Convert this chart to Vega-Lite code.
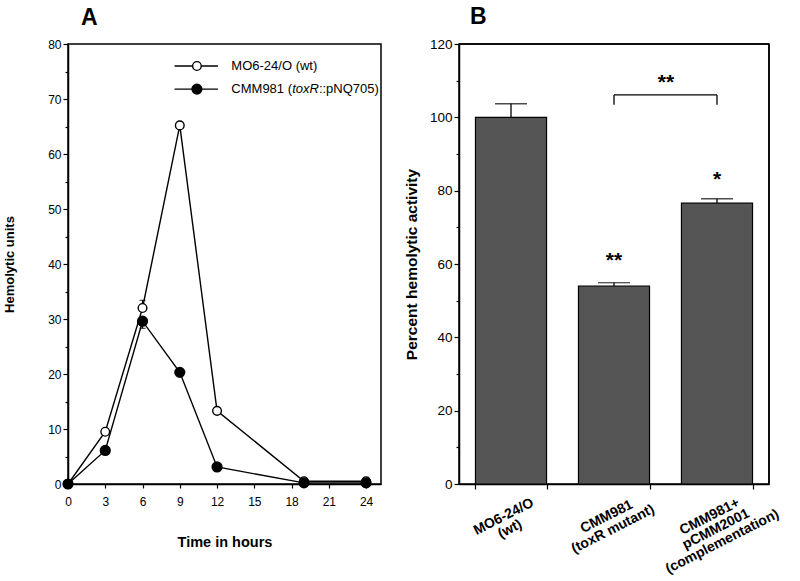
{
  "$schema": "https://vega.github.io/schema/vega-lite/v6.json",
  "padding": {"left": 2, "top": 5, "right": 2, "bottom": 2},
  "spacing": 21,
  "config": {
    "font": "Liberation Sans",
    "view": {"stroke": "black", "strokeWidth": 1.5},
    "axis": {"domainColor": "black", "tickColor": "black", "labelColor": "black", "titleColor": "black", "grid": false, "domainWidth": 1.5, "tickWidth": 1.2}
  },
  "datasets": {
    "frame": [{}],
    "timecourse": [
      {"series": "wt", "t": 0, "v": 0},
      {"series": "wt", "t": 3, "v": 9.5},
      {"series": "wt", "t": 6, "v": 32},
      {"series": "wt", "t": 9, "v": 65.2},
      {"series": "wt", "t": 12, "v": 13.3},
      {"series": "wt", "t": 19, "v": 0.5},
      {"series": "wt", "t": 24, "v": 0.5},
      {"series": "mut", "t": 0, "v": 0},
      {"series": "mut", "t": 3, "v": 6.1},
      {"series": "mut", "t": 6, "v": 29.6},
      {"series": "mut", "t": 9, "v": 20.3},
      {"series": "mut", "t": 12, "v": 3.1},
      {"series": "mut", "t": 19, "v": 0.2},
      {"series": "mut", "t": 24, "v": 0.2}
    ],
    "errA": [
      {"series": "wt", "t": 6, "lo": 32, "hi": 33.4},
      {"series": "mut", "t": 6, "lo": 28.3, "hi": 29.6}
    ],
    "legendA": [
      {"series": "wt", "x1": 8.58, "x2": 12.07, "xp": 10.38, "y": 76},
      {"series": "mut", "x1": 8.58, "x2": 12.07, "xp": 10.38, "y": 71.8}
    ],
    "legendTextA": [
      {"x": 13.15, "y": 76, "text": "MO6-24/O (wt)"},
      {"x": 13.15, "y": 71.8, "text": "CMM981 ("},
      {"x": 20.2, "y": 71.8, "text": "::pNQ705)"}
    ],
    "legendItalicA": [
      {"x": 18.05, "y": 71.8, "text": "toxR"}
    ],
    "bars": [
      {"strain": "MO6-24/O|(wt)", "pct": 100, "err": 103.7},
      {"strain": "CMM981|(toxR mutant)", "pct": 54.0, "err": 54.9},
      {"strain": "CMM981+|pCMM2001|(complementation)", "pct": 76.6, "err": 77.8}
    ],
    "stars": [
      {"strain": "CMM981|(toxR mutant)", "y": 61, "label": "**"},
      {"strain": "CMM981+|pCMM2001|(complementation)", "y": 83.3, "label": "*"}
    ],
    "bracketLegs": [
      {"strain": "CMM981|(toxR mutant)", "y": 103.4, "y2": 106.1},
      {"strain": "CMM981+|pCMM2001|(complementation)", "y": 103.4, "y2": 106.1}
    ],
    "bracketTop": [
      {"from": "CMM981|(toxR mutant)", "to": "CMM981+|pCMM2001|(complementation)", "y": 106.1}
    ],
    "bracketLabel": [
      {"strain": "CMM981|(toxR mutant)", "y": 109.7, "label": "**"}
    ]
  },
  "hconcat": [
    {
      "width": 313,
      "height": 440,
      "title": {"text": "A", "anchor": "start", "frame": "group", "fontSize": 23, "fontWeight": "bold", "offset": 8, "dx": 13, "color": "black"},
      "encoding": {
        "x": {
          "field": "t", "type": "quantitative",
          "scale": {"domain": [0, 25.2], "nice": false, "zero": false},
          "axis": {"values": [0, 3, 6, 9, 12, 15, 18, 21, 24], "title": "Time in hours", "titleFontSize": 14.5, "titleFontWeight": "bold", "titlePadding": 28, "labelFontSize": 12, "tickSize": 4, "labelPadding": 8, "labelFlush": false}
        },
        "y": {
          "field": "v", "type": "quantitative",
          "scale": {"domain": [0, 80], "nice": false},
          "axis": {
            "values": [0, 5, 10, 15, 20, 25, 30, 35, 40, 45, 50, 55, 60, 65, 70, 75, 80],
            "labelExpr": "datum.value % 10 === 0 ? datum.label : ''",
            "tickSize": {"condition": {"test": "datum.value % 10 === 0", "value": 5}, "value": 3},
            "title": "Hemolytic units", "titleFontSize": 13, "titleFontWeight": "bold", "titlePadding": 31,
            "labelFontSize": 12, "labelPadding": 2, "labelFlush": false
          }
        }
      },
      "layer": [
        {
          "data": {"name": "frame"},
          "mark": {"type": "rule", "color": "black", "strokeWidth": 1.5},
          "encoding": {"x": {"value": 0}, "x2": {"value": "width"}, "y": {"datum": 80, "type": "quantitative"}}
        },
        {
          "data": {"name": "frame"},
          "mark": {"type": "rule", "color": "black", "strokeWidth": 1.5},
          "encoding": {"x": {"value": "width"}, "y": {"datum": 0, "type": "quantitative"}, "y2": {"datum": 80}}
        },
        {
          "data": {"name": "timecourse"},
          "mark": {"type": "line", "color": "black", "strokeWidth": 1.4},
          "encoding": {"detail": {"field": "series"}}
        },
        {
          "data": {"name": "errA"},
          "mark": {"type": "rule", "color": "black", "strokeWidth": 1.2},
          "encoding": {"y": {"field": "lo", "type": "quantitative"}, "y2": {"field": "hi"}}
        },
        {
          "data": {"name": "errA"},
          "transform": [{"filter": "datum.series === 'wt'"}],
          "mark": {"type": "tick", "color": "black", "size": 6, "thickness": 1.2, "orient": "horizontal"},
          "encoding": {"y": {"field": "hi", "type": "quantitative"}}
        },
        {
          "data": {"name": "errA"},
          "transform": [{"filter": "datum.series === 'mut'"}],
          "mark": {"type": "tick", "color": "black", "size": 6, "thickness": 1.2, "orient": "horizontal"},
          "encoding": {"y": {"field": "lo", "type": "quantitative"}}
        },
        {
          "data": {"name": "timecourse"},
          "transform": [{"filter": "datum.series === 'wt'"}],
          "mark": {"type": "point", "shape": "circle", "filled": true, "fill": "white", "stroke": "black", "strokeWidth": 1.4, "size": 75, "opacity": 1}
        },
        {
          "data": {"name": "timecourse"},
          "transform": [{"filter": "datum.series === 'mut'"}],
          "mark": {"type": "point", "shape": "circle", "filled": true, "fill": "black", "stroke": "black", "size": 85, "opacity": 1}
        },
        {
          "data": {"name": "legendA"},
          "mark": {"type": "rule", "color": "black", "strokeWidth": 1.4},
          "encoding": {"x": {"field": "x1", "type": "quantitative"}, "x2": {"field": "x2"}, "y": {"field": "y", "type": "quantitative"}}
        },
        {
          "data": {"name": "legendA"},
          "transform": [{"filter": "datum.series === 'wt'"}],
          "mark": {"type": "point", "shape": "circle", "filled": true, "fill": "white", "stroke": "black", "strokeWidth": 1.4, "size": 75, "opacity": 1},
          "encoding": {"x": {"field": "xp", "type": "quantitative"}, "y": {"field": "y", "type": "quantitative"}}
        },
        {
          "data": {"name": "legendA"},
          "transform": [{"filter": "datum.series === 'mut'"}],
          "mark": {"type": "point", "shape": "circle", "filled": true, "fill": "black", "stroke": "black", "size": 85, "opacity": 1},
          "encoding": {"x": {"field": "xp", "type": "quantitative"}, "y": {"field": "y", "type": "quantitative"}}
        },
        {
          "data": {"name": "legendTextA"},
          "mark": {"type": "text", "align": "left", "baseline": "middle", "fontSize": 13, "color": "black"},
          "encoding": {"x": {"field": "x", "type": "quantitative"}, "y": {"field": "y", "type": "quantitative"}, "text": {"field": "text"}}
        },
        {
          "data": {"name": "legendItalicA"},
          "mark": {"type": "text", "align": "left", "baseline": "middle", "fontSize": 13, "fontStyle": "italic", "color": "black"},
          "encoding": {"x": {"field": "x", "type": "quantitative"}, "y": {"field": "y", "type": "quantitative"}, "text": {"field": "text"}}
        }
      ]
    },
    {
      "width": 310,
      "height": 440,
      "title": {"text": "B", "anchor": "start", "frame": "group", "fontSize": 23, "fontWeight": "bold", "offset": 8, "dx": 11, "color": "black"},
      "encoding": {
        "x": {
          "field": "strain", "type": "nominal", "sort": null,
          "scale": {"paddingInner": 0.31, "paddingOuter": 0.16},
          "axis": {
            "title": null, "labelExpr": "split(datum.label, '|')", "labelAngle": -27, "labelAlign": "center", "labelBaseline": "top",
            "labelFontSize": 14, "labelFontWeight": "bold", "labelLineHeight": 14, "labelOffset": -11, "labelPadding": 21,
            "tickBand": "extent", "tickSize": 5
          }
        },
        "y": {
          "type": "quantitative",
          "scale": {"domain": [0, 120], "nice": false},
          "axis": {
            "values": [0, 10, 20, 30, 40, 50, 60, 70, 80, 90, 100, 110, 120],
            "labelExpr": "datum.value % 20 === 0 ? datum.label : ''",
            "tickSize": {"condition": {"test": "datum.value % 20 === 0", "value": 5}, "value": 3},
            "title": "Percent  hemolytic  activity", "titleFontSize": 15.5, "titleFontWeight": "bold", "titlePadding": 10,
            "labelFontSize": 13.5, "labelPadding": 2, "labelFlush": false
          }
        }
      },
      "layer": [
        {
          "data": {"name": "frame"},
          "mark": {"type": "rule", "color": "black", "strokeWidth": 1.5},
          "encoding": {"x": {"value": 0}, "x2": {"value": "width"}, "y": {"datum": 120, "type": "quantitative"}}
        },
        {
          "data": {"name": "frame"},
          "mark": {"type": "rule", "color": "black", "strokeWidth": 1.5},
          "encoding": {"x": {"value": "width"}, "y": {"datum": 0, "type": "quantitative"}, "y2": {"datum": 120}}
        },
        {
          "data": {"name": "bars"},
          "mark": {"type": "bar", "fill": "#555555", "stroke": "black", "strokeWidth": 1.2},
          "encoding": {"y": {"field": "pct", "type": "quantitative"}}
        },
        {
          "data": {"name": "bars"},
          "mark": {"type": "rule", "color": "black", "strokeWidth": 1.3},
          "encoding": {"y": {"field": "pct", "type": "quantitative"}, "y2": {"field": "err"}}
        },
        {
          "data": {"name": "bars"},
          "mark": {"type": "tick", "color": "black", "size": 32, "thickness": 1.3, "orient": "horizontal"},
          "encoding": {"y": {"field": "err", "type": "quantitative"}}
        },
        {
          "data": {"name": "stars"},
          "mark": {"type": "text", "fontSize": 21, "fontWeight": "bold", "baseline": "middle", "dy": 1, "color": "black"},
          "encoding": {"y": {"field": "y", "type": "quantitative"}, "text": {"field": "label"}}
        },
        {
          "data": {"name": "bracketLegs"},
          "mark": {"type": "rule", "color": "black", "strokeWidth": 1.3},
          "encoding": {"y": {"field": "y", "type": "quantitative"}, "y2": {"field": "y2"}}
        },
        {
          "data": {"name": "bracketTop"},
          "mark": {"type": "rule", "color": "black", "strokeWidth": 1.3},
          "encoding": {"x": {"field": "from", "type": "nominal"}, "x2": {"field": "to"}, "y": {"field": "y", "type": "quantitative"}}
        },
        {
          "data": {"name": "bracketLabel"},
          "mark": {"type": "text", "fontSize": 21, "fontWeight": "bold", "baseline": "middle", "dy": 1, "dx": 52, "color": "black"},
          "encoding": {"y": {"field": "y", "type": "quantitative"}, "text": {"field": "label"}}
        }
      ]
    }
  ]
}
